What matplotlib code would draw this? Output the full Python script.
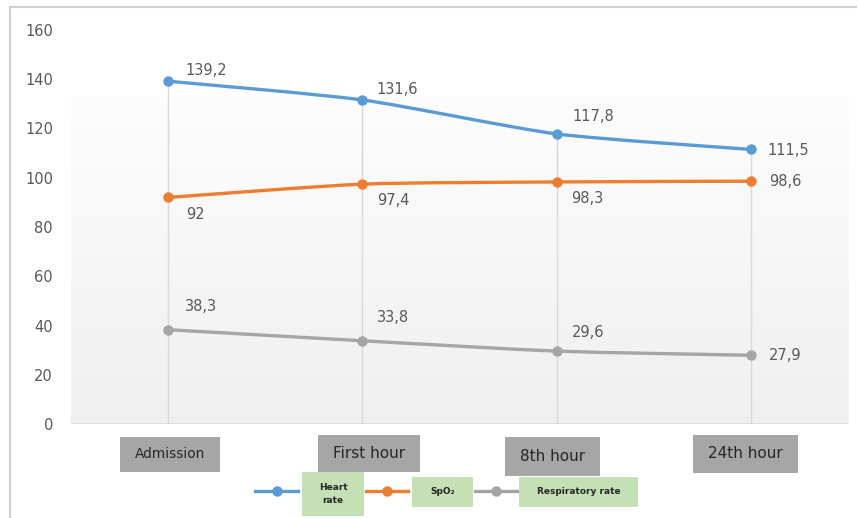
import numpy as np
import matplotlib
matplotlib.use("Agg")
import matplotlib.pyplot as plt
from matplotlib.path import Path
from matplotlib.patches import PathPatch, Rectangle
from matplotlib.lines import Line2D

# data
categories = ["Admission", "First hour", "8th hour", "24th hour"]
heart_rate = [139.2, 131.6, 117.8, 111.5]
spo2 = [92, 97.4, 98.3, 98.6]
resp_rate = [38.3, 33.8, 29.6, 27.9]
series_names = ["Heart\nrate", "SpO₂", "Respiratory rate"]
yticks = [0, 20, 40, 60, 80, 100, 120, 140, 160]

W, H = 860, 518
fig = plt.figure(figsize=(W / 100, H / 100), dpi=100)
fig.patch.set_facecolor("white")


def fx(px):
    return px / W


def fy(py):
    return 1 - py / H


ax = fig.add_axes([fx(71), fy(424), fx(848) - fx(71), fy(30) - fy(424)])
ax.set_xlim(-0.5, 3.5)
ax.set_ylim(0, 160)
for s in ax.spines.values():
    s.set_visible(False)
ax.set_xticks([])
ax.set_yticks(yticks)
ax.set_yticklabels([str(v) for v in yticks])
ax.tick_params(axis="y", length=0, pad=13, labelsize=10.5, labelcolor="#595959")

# soft gradient background
grad = np.linspace(0, 1, 100).reshape(-1, 1)
ax.imshow(grad, extent=[-0.5, 3.5, 0, 133], aspect="auto", origin="lower",
          cmap=matplotlib.colors.LinearSegmentedColormap.from_list("g", ["#efefef", "#fdfdfd"]),
          zorder=0)
ax.axhline(0, color="#d9d9d9", lw=1.2, zorder=1)

x = np.arange(len(categories))
tops = np.max([heart_rate, spo2, resp_rate], axis=0)
ax.vlines(x, 0, tops, color="#d9d9d9", lw=1, zorder=1)


def smooth_path(xs, ys, k=1 / 9):
    pts = np.column_stack([xs, ys]).astype(float)
    p = np.vstack([pts[0], pts, pts[-1]])
    verts = [pts[0]]
    codes = [Path.MOVETO]
    for i in range(len(pts) - 1):
        c1 = p[i + 1] + (p[i + 2] - p[i]) * k
        c2 = p[i + 2] - (p[i + 3] - p[i + 1]) * k
        verts += [c1, c2, p[i + 2]]
        codes += [Path.CURVE4] * 3
    return Path(verts, codes)


colors = ["#5b9bd5", "#ed7d31", "#a5a5a5"]
offsets = [
    [(17, 11), (14, 10), (16, 17), (17, -1)],
    [(18, -17), (15, -16), (15, -17), (18, 0)],
    [(17, 23), (15, 23), (15, 19), (18, 0)],
]
for vals, col, offs in zip([heart_rate, spo2, resp_rate], colors, offsets):
    ax.add_patch(PathPatch(smooth_path(x, vals), fill=False, edgecolor=col,
                           lw=2.4, capstyle="round", zorder=3))
    ax.plot(x, vals, "o", color=col, ms=6.5, zorder=4)
    for xi, v, (dx, dy) in zip(x, vals, offs):
        ax.annotate(f"{v:g}".replace(".", ","), (xi, v), xytext=(dx, dy),
                    textcoords="offset pixels", ha="left", va="center",
                    fontsize=10.5, color="#595959", zorder=5)

# category boxes
cat_boxes = [(120, 437, 220, 472, 9.8), (318, 435, 420, 472, 11),
             (505, 437, 600, 476, 11), (693, 435, 798, 473, 11)]
for lab, (x0, y0, x1, y1, fs) in zip(categories, cat_boxes):
    fig.add_artist(Rectangle((fx(x0), fy(y1)), fx(x1) - fx(x0), fy(y0) - fy(y1),
                             transform=fig.transFigure, facecolor="#a6a6a6",
                             edgecolor="none"))
    fig.text(fx((x0 + x1) / 2), fy((y0 + y1) / 2), lab, ha="center", va="center",
             fontsize=fs, color="#262626")

# legend
leg_lines = [(255, 298), (366, 408), (475, 517)]
leg_boxes = [(302, 472, 364, 516), (412, 477, 473, 507), (519, 477, 638, 507)]
for name, col, (l0, l1), (x0, y0, x1, y1) in zip(series_names, colors, leg_lines, leg_boxes):
    fig.add_artist(Line2D([fx(l0), fx(l1)], [fy(491), fy(491)], transform=fig.transFigure,
                          color=col, lw=2.4))
    fig.add_artist(Line2D([fx((l0 + l1) / 2)], [fy(491)], transform=fig.transFigure,
                          color=col, marker="o", ms=6.5))
    fig.add_artist(Rectangle((fx(x0), fy(y1)), fx(x1) - fx(x0), fy(y0) - fy(y1),
                             transform=fig.transFigure, facecolor="#c5e0b4",
                             edgecolor="none"))
    fig.text(fx((x0 + x1) / 2), fy((y0 + y1) / 2), name, ha="center", va="center",
             fontsize=6.5, fontweight="bold", color="#262626", linespacing=1.6)

# chart border
fig.add_artist(Line2D([fx(10), fx(10)], [fy(7), 0], transform=fig.transFigure,
                      color="#d0d0d0", lw=1.5))
fig.add_artist(Line2D([fx(10), fx(856)], [fy(7), fy(7)], transform=fig.transFigure,
                      color="#d0d0d0", lw=1.5))

fig.savefig("out.png", dpi=100)
